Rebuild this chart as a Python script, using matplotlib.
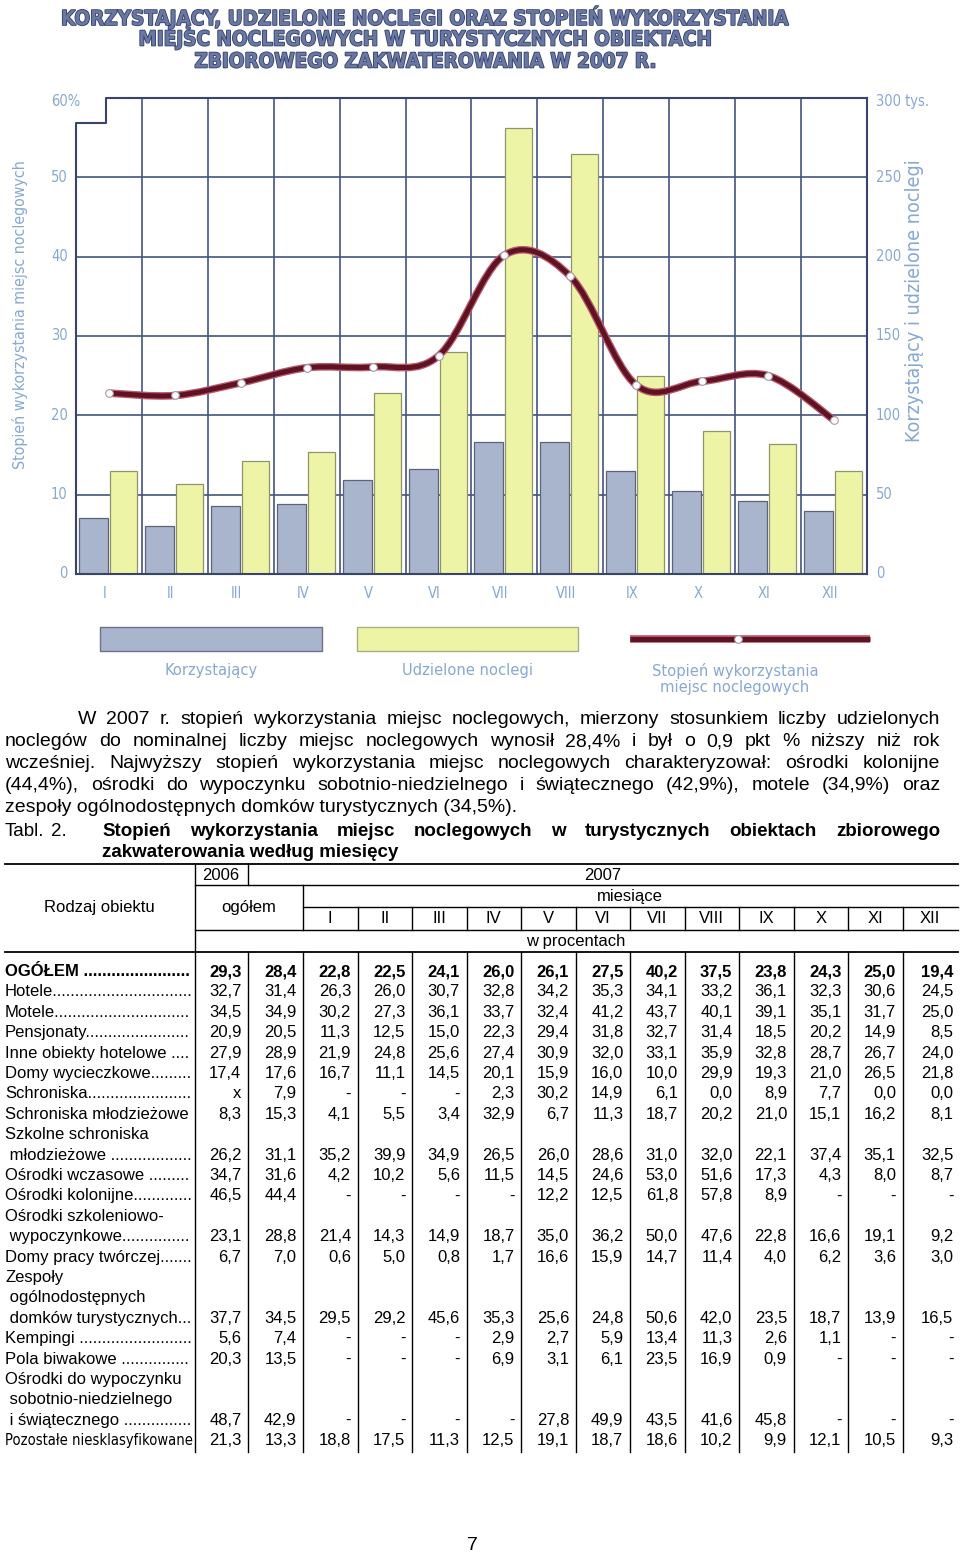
import matplotlib
matplotlib.use('Agg')
import matplotlib.pyplot as plt
import matplotlib.patheffects as pe
from matplotlib.patches import Rectangle, PathPatch
from matplotlib.path import Path

# ---- dane wykresu ----
miesiace = ['I', 'II', 'III', 'IV', 'V', 'VI', 'VII', 'VIII', 'IX', 'X', 'XI', 'XII']
korzystajacy = [35, 30, 43, 44, 59, 66, 83, 83, 65, 52, 46, 40]            # tys.
udzielone_noclegi = [65, 57, 71, 77, 114, 140, 281, 265, 125, 90, 82, 65]  # tys.
stopien = [22.8, 22.5, 24.1, 26.0, 26.1, 27.5, 40.2, 37.5, 23.8, 24.3, 25.0, 19.4]  # %

tytul = ["KORZYSTAJĄCY, UDZIELONE NOCLEGI ORAZ STOPIEŃ WYKORZYSTANIA",
         "MIEJSC NOCLEGOWYCH W TURYSTYCZNYCH OBIEKTACH",
         "ZBIOROWEGO ZAKWATEROWANIA W 2007 R."]
lewa_os = [0, 10, 20, 30, 40, 50]
prawa_os = [0, 50, 100, 150, 200, 250]
legenda = ["Korzystający", "Udzielone noclegi", "Stopień wykorzystania\nmiejsc noclegowych"]

akapit = [
    "W 2007 r. stopień wykorzystania miejsc noclegowych, mierzony stosunkiem liczby udzielonych",
    "noclegów do nominalnej liczby miejsc noclegowych wynosił 28,4% i był o 0,9 pkt % niższy niż rok",
    "wcześniej. Najwyższy stopień wykorzystania miejsc noclegowych charakteryzował: ośrodki kolonijne",
    "(44,4%), ośrodki do wypoczynku sobotnio-niedzielnego i świątecznego  (42,9%), motele (34,9%) oraz",
    "zespoły ogólnodostępnych domków turystycznych (34,5%).",
]
tabl_tytul = ["Stopień wykorzystania miejsc noclegowych w turystycznych obiektach zbiorowego",
              "zakwaterowania według miesięcy"]

# ---- dane tabeli ----
rodzaj = ["OGÓŁEM ", "Hotele", "Motele", "Pensjonaty", "Inne obiekty hotelowe ",
          "Domy wycieczkowe", "Schroniska", "Schroniska młodzieżowe",
          "Szkolne schroniska\n młodzieżowe ", "Ośrodki wczasowe ", "Ośrodki kolonijne",
          "Ośrodki szkoleniowo-\n wypoczynkowe", "Domy pracy twórczej",
          "Zespoły\n ogólnodostępnych\n domków turystycznych", "Kempingi ", "Pola biwakowe ",
          "Ośrodki do wypoczynku\n sobotnio-niedzielnego\n i świątecznego ",
          "Pozostałe niesklasyfikowane"]
kropki = [True, True, True, True, True, True, True, False, True, True, True, True, True,
          True, True, True, True, False]
wartosci = [
    "29,3 28,4 22,8 22,5 24,1 26,0 26,1 27,5 40,2 37,5 23,8 24,3 25,0 19,4",
    "32,7 31,4 26,3 26,0 30,7 32,8 34,2 35,3 34,1 33,2 36,1 32,3 30,6 24,5",
    "34,5 34,9 30,2 27,3 36,1 33,7 32,4 41,2 43,7 40,1 39,1 35,1 31,7 25,0",
    "20,9 20,5 11,3 12,5 15,0 22,3 29,4 31,8 32,7 31,4 18,5 20,2 14,9 8,5",
    "27,9 28,9 21,9 24,8 25,6 27,4 30,9 32,0 33,1 35,9 32,8 28,7 26,7 24,0",
    "17,4 17,6 16,7 11,1 14,5 20,1 15,9 16,0 10,0 29,9 19,3 21,0 26,5 21,8",
    "x 7,9 - - - 2,3 30,2 14,9 6,1 0,0 8,9 7,7 0,0 0,0",
    "8,3 15,3 4,1 5,5 3,4 32,9 6,7 11,3 18,7 20,2 21,0 15,1 16,2 8,1",
    "26,2 31,1 35,2 39,9 34,9 26,5 26,0 28,6 31,0 32,0 22,1 37,4 35,1 32,5",
    "34,7 31,6 4,2 10,2 5,6 11,5 14,5 24,6 53,0 51,6 17,3 4,3 8,0 8,7",
    "46,5 44,4 - - - - 12,2 12,5 61,8 57,8 8,9 - - -",
    "23,1 28,8 21,4 14,3 14,9 18,7 35,0 36,2 50,0 47,6 22,8 16,6 19,1 9,2",
    "6,7 7,0 0,6 5,0 0,8 1,7 16,6 15,9 14,7 11,4 4,0 6,2 3,6 3,0",
    "37,7 34,5 29,5 29,2 45,6 35,3 25,6 24,8 50,6 42,0 23,5 18,7 13,9 16,5",
    "5,6 7,4 - - - 2,9 2,7 5,9 13,4 11,3 2,6 1,1 - -",
    "20,3 13,5 - - - 6,9 3,1 6,1 23,5 16,9 0,9 - - -",
    "48,7 42,9 - - - - 27,8 49,9 43,5 41,6 45,8 - - -",
    "21,3 13,3 18,8 17,5 11,3 12,5 19,1 18,7 18,6 10,2 9,9 12,1 10,5 9,3",
]

W, H = 960, 1556
NARROW = dict(family=['DejaVu Sans'], fontstretch='condensed')
ARIAL = ['Liberation Sans', 'DejaVu Sans']
jasny = '#86a8d2'
siatka = '#43547e'

fig = plt.figure(figsize=(9.6, 15.56), dpi=100)
page = fig.add_axes([0, 0, 1, 1])
page.set_xlim(0, W)
page.set_ylim(H, 0)
page.axis('off')
rend = fig.canvas.get_renderer()


def width_of(txt, size, **kw):
    t = page.text(0, 0, txt, fontsize=size, **kw)
    w = t.get_window_extent(rend).width
    t.remove()
    return w


def fit(txt, target, **kw):
    return 12 * target / width_of(txt, 12, **kw)


# ---- wykres ----
L, R, T, B = 76, 867, 98, 574
ax = fig.add_axes([L / W, 1 - B / H, (R - L) / W, (B - T) / H])
ax.set_facecolor('none')
ax.set_xlim(-0.5, 11.5)
ax.set_ylim(0, 300)
for v in range(50, 300, 50):
    ax.axhline(v, color=siatka, lw=1.2, zorder=0.5)
for i in range(1, 12):
    ax.axvline(i - 0.5, color=siatka, lw=1.2, zorder=0.5)
x = list(range(12))
ax.bar([i - 0.235 for i in x], korzystajacy, width=0.44, color='#a9b5cd',
       edgecolor='#5d6477', lw=0.9, zorder=2)
ax.bar([i + 0.22 for i in x], udzielone_noclegi, width=0.41, color='#eef4a6',
       edgecolor='#8f946c', lw=0.9, zorder=2)
ax.set_xticks([])
ax.set_yticks([])
for s in ['left', 'top']:
    ax.spines[s].set_visible(False)
for s in ['right', 'bottom']:
    ax.spines[s].set_color('#39446a')
    ax.spines[s].set_linewidth(1.5)
nx, ny = (106 - L) / (R - L), (B - 123) / (B - T)
ax.plot([0, 0, nx, nx, 1], [0, ny, ny, 1, 1], color='#39446a', lw=1.5,
        transform=ax.transAxes, clip_on=False, zorder=5)

ax2 = ax.twinx()
ax2.set_ylim(0, 60)
ax2.set_yticks([])
for s in ax2.spines.values():
    s.set_visible(False)

# wygładzona linia (Catmull-Rom jako krzywe Beziera)
pts = list(zip(x, stopien))
verts = [pts[0]]
codes = [Path.MOVETO]
for k in range(len(pts) - 1):
    p0 = pts[max(k - 1, 0)]
    p1 = pts[k]
    p2 = pts[k + 1]
    p3 = pts[min(k + 2, len(pts) - 1)]
    c1 = (p1[0] + (p2[0] - p0[0]) / 6, p1[1] + (p2[1] - p0[1]) / 6)
    c2 = (p2[0] - (p3[0] - p1[0]) / 6, p2[1] - (p3[1] - p1[1]) / 6)
    verts += [c1, c2, p2]
    codes += [Path.CURVE4] * 3
krzywa = Path(verts, codes)
ax2.add_patch(PathPatch(krzywa, fc='none', ec='#b8586c', lw=5.5, zorder=3))
ax2.add_patch(PathPatch(krzywa, fc='none', ec='#5e1222', lw=3.6, zorder=3))
ax2.plot(x, stopien, 'o', ms=5.5, mfc='white', mec='#a898a8', mew=0.8, zorder=4)

for v in lewa_os:
    ax2.text(-0.0105, v, str(v), transform=ax2.get_yaxis_transform(), ha='right',
             va='center', fontsize=10.5, color=jasny, **NARROW)
page.text(51, 101, '60%', ha='left', va='center', fontsize=10.5, color=jasny, **NARROW)
for v in prawa_os:
    ax.text(1.011, v, str(v), transform=ax.get_yaxis_transform(), ha='left',
            va='center', fontsize=10.5, color=jasny, **NARROW)
page.text(876, 101, '300 tys.', ha='left', va='center', fontsize=10.5, color=jasny, **NARROW)
for i, m in enumerate(miesiace):
    ax.text(i - 0.06, -0.04, m, transform=ax.get_xaxis_transform(), ha='center',
            va='center', fontsize=10.5, color=jasny, **NARROW)

s = fit("Stopień wykorzystania miejsc noclegowych", 310, **NARROW)
page.text(20, 315, "Stopień wykorzystania miejsc noclegowych", rotation=90, ha='center',
          va='center', fontsize=s, color=jasny, **NARROW)
s = fit("Korzystający i udzielone noclegi", 282, **NARROW)
page.text(915, 301, "Korzystający i udzielone noclegi", rotation=90, ha='center',
          va='center', fontsize=s, color=jasny, **NARROW)

# tytuł
s = fit(tytul[0], 728, fontweight='bold', **NARROW)
for k, line in enumerate(tytul):
    page.text(426, 18 + 22 * k, line, ha='center', va='center', fontsize=s,
              fontweight='bold', color='#6878a2', **NARROW,
              path_effects=[pe.withStroke(linewidth=1.2, foreground='#34406a')])

# legenda
page.add_patch(Rectangle((100, 627), 222, 24, fc='#a9b5cd', ec='#6a7388', lw=1))
page.add_patch(Rectangle((357, 627), 221, 24, fc='#eef4a6', ec='#a9ae86', lw=1))
page.plot([630, 870], [639, 639], color='#b8586c', lw=5.5, solid_capstyle='butt')
page.plot([630, 870], [639, 639], color='#5e1222', lw=3.6, solid_capstyle='butt')
page.plot([738], [639], 'o', ms=5.5, mfc='white', mec='#a898a8', mew=0.8)
s = fit("Udzielone noclegi", 131, **NARROW)
page.text(211, 670, legenda[0], ha='center', va='center', fontsize=s, color=jasny, **NARROW)
page.text(467, 670, legenda[1], ha='center', va='center', fontsize=s, color=jasny, **NARROW)
page.text(735, 679, legenda[2], ha='center', va='center', fontsize=s, color=jasny,
          linespacing=1.15, **NARROW)


# ---- tekst ----
def justify(line, x0, x1, y, size, weight='normal'):
    words = line.split()
    texts = [page.text(0, y, w, fontsize=size, fontweight=weight, family=ARIAL,
                       va='baseline') for w in words]
    ws = [t.get_window_extent(rend).width for t in texts]
    gap = (x1 - x0 - sum(ws)) / (len(words) - 1)
    xx = x0
    for t, w in zip(texts, ws):
        t.set_x(xx)
        xx += w + gap


ps = fit(akapit[4], 510, family=ARIAL)
for k, line in enumerate(akapit):
    y = 724 + 22 * k
    x0 = 78 if k == 0 else 5
    if k < 4:
        justify(line, x0, 940, y, ps)
    else:
        page.text(x0, y, line, fontsize=ps, family=ARIAL, va='baseline')

ts = fit(tabl_tytul[1], 295, family=ARIAL, fontweight='bold')
page.text(5, 836, "Tabl.", fontsize=ts, family=ARIAL, va='baseline')
page.text(51, 836, "2.", fontsize=ts, family=ARIAL, va='baseline')
justify(tabl_tytul[0], 102, 940, 836, ts, weight='bold')
page.text(102, 857, tabl_tytul[1], fontsize=ts, fontweight='bold', family=ARIAL, va='baseline')

# ---- tabela ----
fs = fit("Schroniska młodzieżowe", 183, family=ARIAL)
edges = [195, 248, 303] + [303 + 54.5 * (k + 1) for k in range(12)]
kw = dict(color='black', lw=1.0)
for y, xa in [(864, 5), (885, 195), (907, 303), (930, 195), (952, 5)]:
    page.plot([xa, 958], [y, y], color='black', lw=1.3 if xa == 5 else 1.0)
page.plot([195, 195], [864, 1452], **kw)
page.plot([248, 248], [864, 885], **kw)
page.plot([303, 303], [885, 930], **kw)
for e in edges[1:-1]:
    page.plot([e, e], [952, 1452], **kw)
for e in edges[3:-1]:
    page.plot([e, e], [907, 930], **kw)

hk = dict(fontsize=fs, family=ARIAL, ha='center', va='center')
page.text(221, 875, "2006", **hk)
page.text(603, 875, "2007", **hk)
page.text(249, 907, "ogółem", **hk)
page.text(630, 896, "miesiące", **hk)
page.text(576, 941, "w procentach", **hk)
page.text(99, 907, "Rodzaj obiektu", **hk)
for k, m in enumerate(miesiace):
    page.text((edges[k + 2] + edges[k + 3]) / 2, 918, m, **hk)

base = 976
step = 20.4
line_no = 0
for r, (lab, dots, vals) in enumerate(zip(rodzaj, kropki, wartosci)):
    wt = 'bold' if r == 0 else 'normal'
    parts = lab.split('\n')
    for j, p in enumerate(parts):
        y = base + step * (line_no + j)
        x0 = 5
        if j == len(parts) - 1:
            if not dots and width_of(p, fs, family=ARIAL, fontweight=wt) > 188:
                cs = fit(p, 187, **NARROW)
                t = page.text(x0, y, p, fontsize=min(cs, fs), va='baseline', **NARROW)
                continue
            t = page.text(x0, y, p, fontsize=fs, fontweight=wt, family=ARIAL, va='baseline')
            if dots:
                txt = p
                while True:
                    t.set_text(txt + '.')
                    if t.get_window_extent(rend).x1 > 193:
                        t.set_text(txt)
                        break
                    txt += '.'
        else:
            page.text(x0, y, p, fontsize=fs, fontweight=wt, family=ARIAL, va='baseline')
    y = base + step * (line_no + len(parts) - 1)
    for c, v in enumerate(vals.split()):
        right = edges[c + 1] if c < 13 else 960
        page.text(right - 6.5, y, v, fontsize=fs, fontweight=wt, family=ARIAL,
                  ha='right', va='baseline')
    line_no += len(parts)

page.text(472, 1545, "7", fontsize=ps, family=ARIAL, ha='center', va='center')

fig.savefig('out.png', dpi=100, facecolor='white')
